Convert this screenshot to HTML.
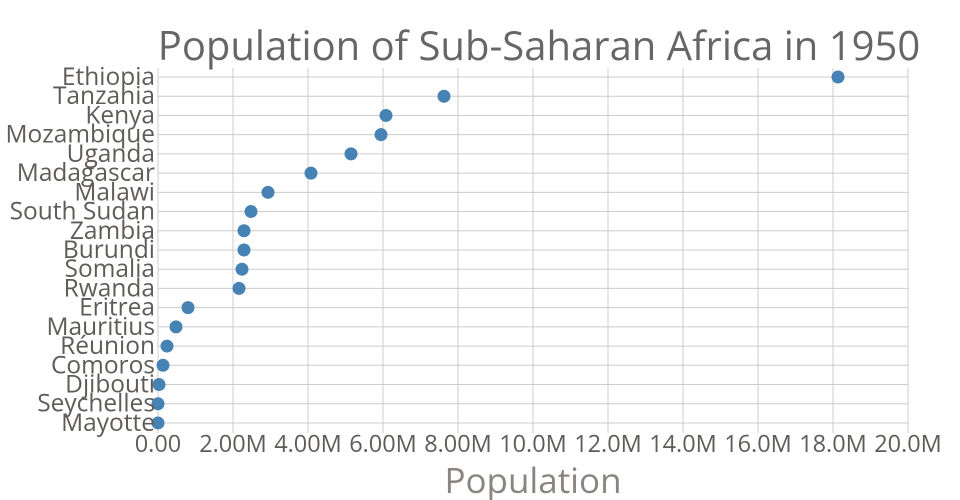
<!DOCTYPE html>
<html><head><meta charset="utf-8"><style>
body{margin:0;background:#fff;}
svg{display:block;font-family:"Open Sans","DejaVu Sans","Liberation Sans",sans-serif;}
</style></head><body>
<svg width="960" height="500" viewBox="0 0 960 500">
<rect width="960" height="500" fill="#fff"/>
<g stroke="#cccccc" stroke-width="1">
<line x1="158" x2="158" y1="68" y2="433"/>
<line x1="233" x2="233" y1="68" y2="433"/>
<line x1="308" x2="308" y1="68" y2="433"/>
<line x1="383" x2="383" y1="68" y2="433"/>
<line x1="458" x2="458" y1="68" y2="433"/>
<line x1="533" x2="533" y1="68" y2="433"/>
<line x1="608" x2="608" y1="68" y2="433"/>
<line x1="683" x2="683" y1="68" y2="433"/>
<line x1="758" x2="758" y1="68" y2="433"/>
<line x1="833" x2="833" y1="68" y2="433"/>
<line x1="908" x2="908" y1="68" y2="433"/>
</g>
<g stroke="#cccccc" stroke-width="1" id="h"></g>
<g id="dots" fill="#4682b4"></g>
<g id="labs" fill="#5f5b58" font-size="24.5" text-anchor="end"></g>
<g fill="#5f5b58" font-size="23.5" text-anchor="middle">
<text x="158" y="452">0.00</text><text x="233" y="452">2.00M</text><text x="308" y="452">4.00M</text><text x="383" y="452">6.00M</text><text x="458" y="452">8.00M</text><text x="533" y="452">10.0M</text><text x="608" y="452">12.0M</text><text x="683" y="452">14.0M</text><text x="758" y="452">16.0M</text><text x="833" y="452">18.0M</text><text x="908" y="452">20.0M</text>
</g>
<text x="533" y="493" font-size="35" fill="#8a8580" text-anchor="middle">Population</text>
<text x="539" y="60" font-size="40" fill="#666" text-anchor="middle">Population of Sub-Saharan Africa in 1950</text>
<script>
var d=[["Ethiopia",838],["Tanzania",444],["Kenya",386],["Mozambique",381],["Uganda",351],["Madagascar",311],["Malawi",268],["South Sudan",251],["Zambia",244],["Burundi",244],["Somalia",242],["Rwanda",239],["Eritrea",188],["Mauritius",176],["Réunion",167],["Comoros",163],["Djibouti",159],["Seychelles",158],["Mayotte",158]];
var ns="http://www.w3.org/2000/svg",h=document.getElementById("h"),g=document.getElementById("dots"),l=document.getElementById("labs");
d.forEach(function(r,i){var y=77+i*19.22;
var ln=document.createElementNS(ns,"line");ln.setAttribute("x1",158);ln.setAttribute("x2",908);ln.setAttribute("y1",y);ln.setAttribute("y2",y);h.appendChild(ln);
var c=document.createElementNS(ns,"circle");c.setAttribute("cx",r[1]);c.setAttribute("cy",y);c.setAttribute("r",6.5);g.appendChild(c);
var t=document.createElementNS(ns,"text");t.setAttribute("x",155);t.setAttribute("y",y+8);t.textContent=r[0];l.appendChild(t);});
</script>
</svg>
</body></html>
